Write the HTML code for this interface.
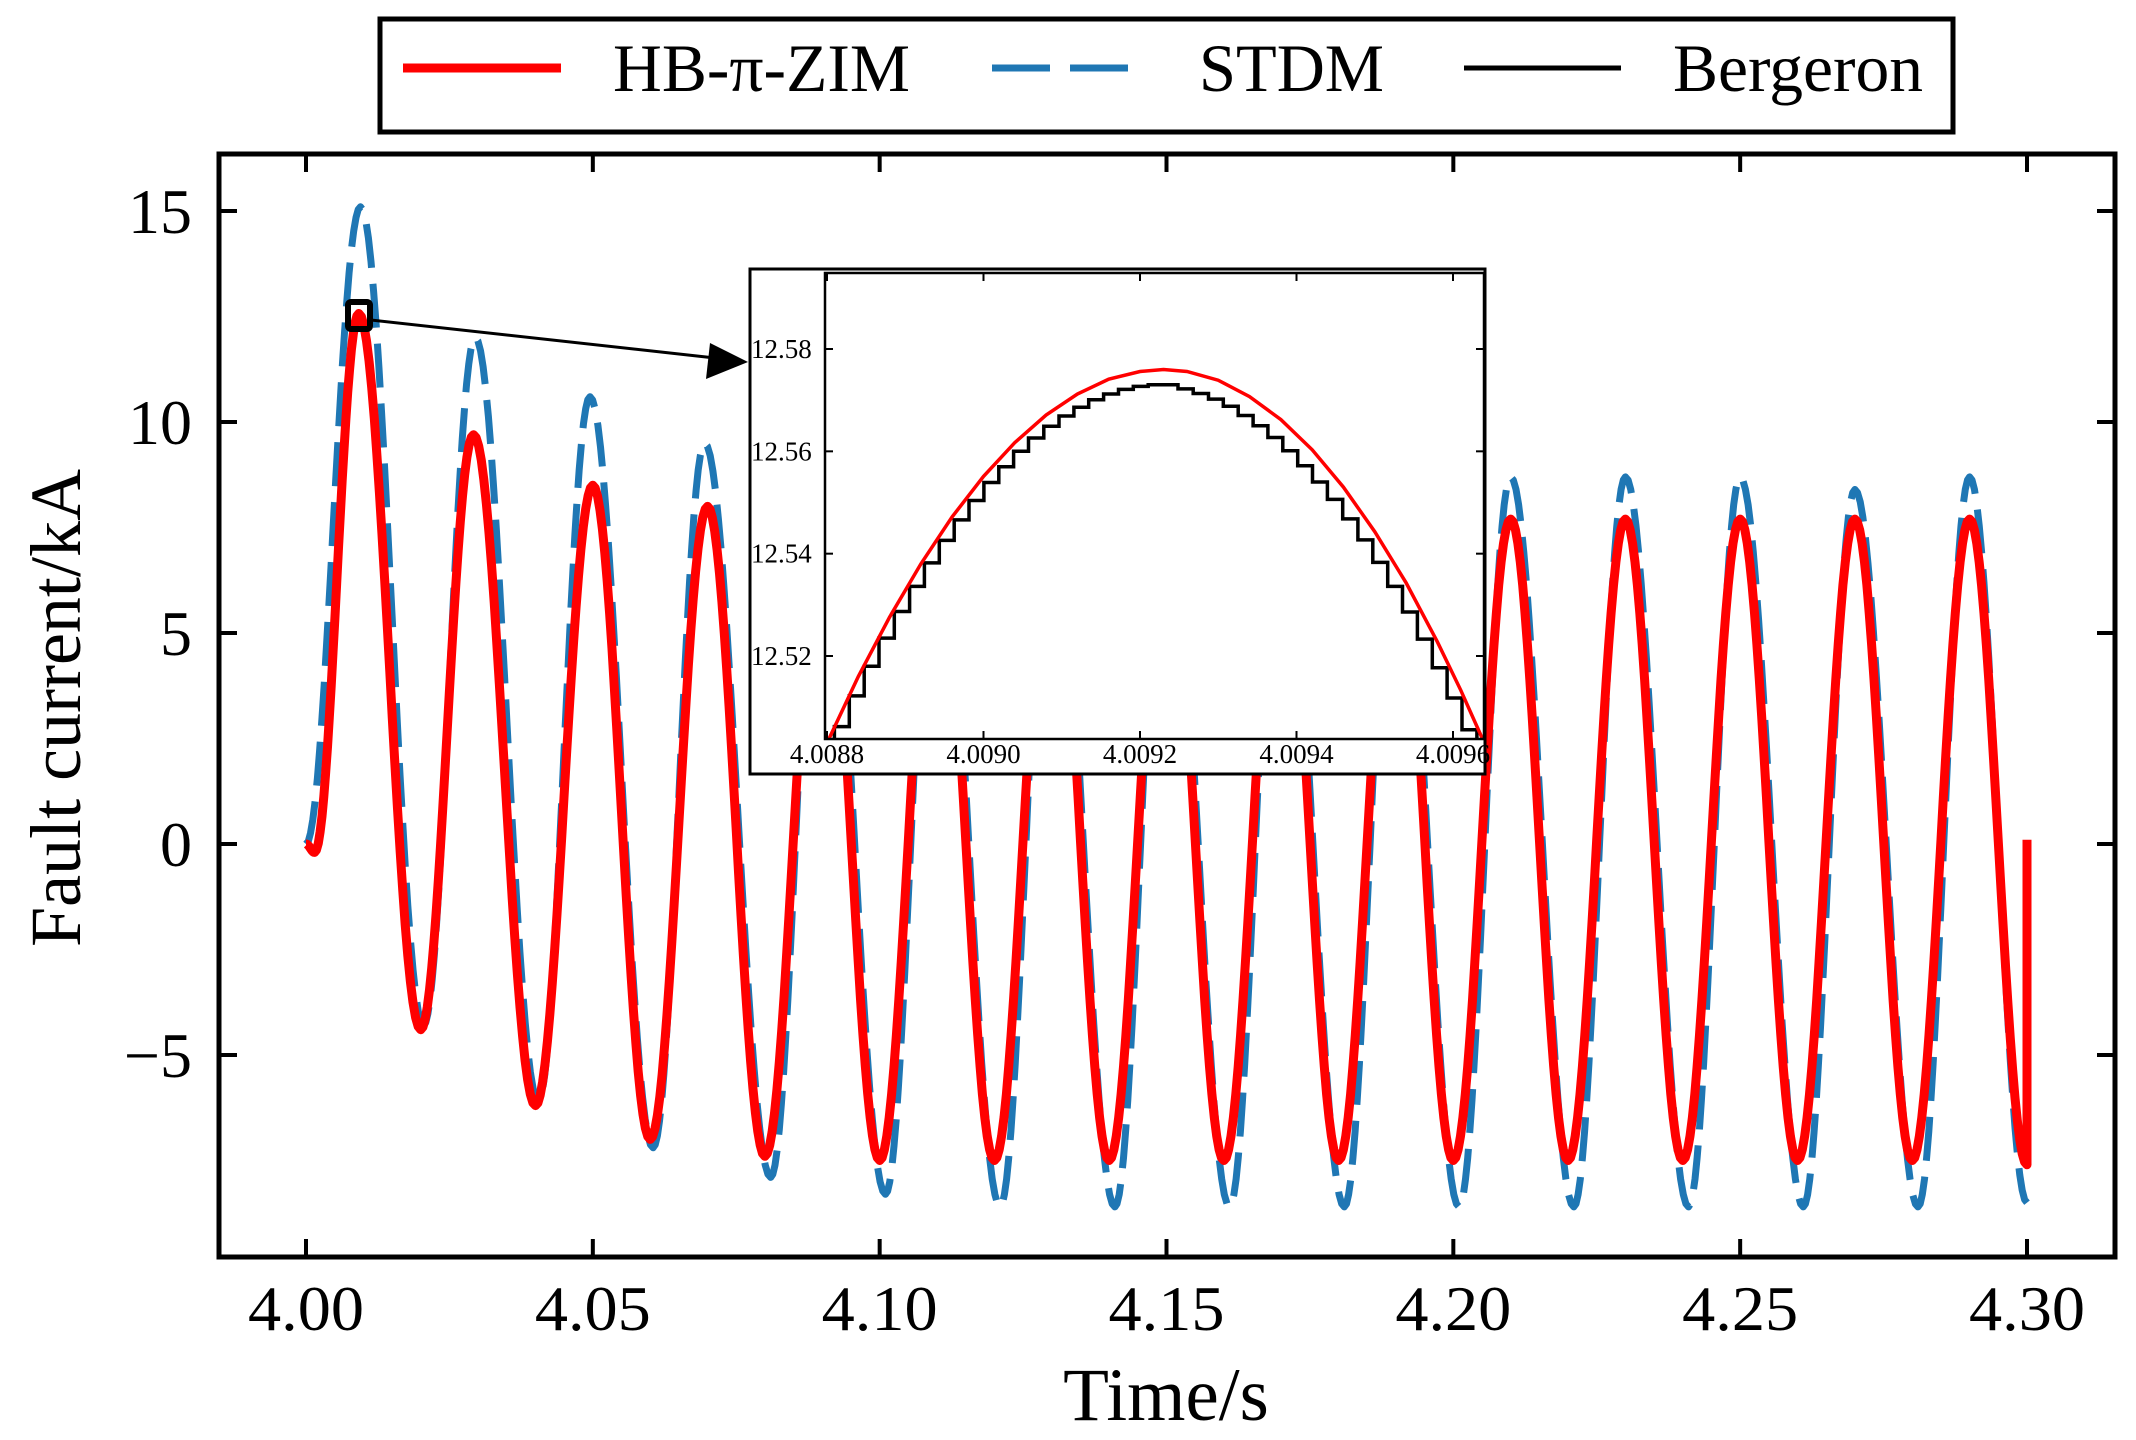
<!DOCTYPE html>
<html><head><meta charset="utf-8"><style>
html,body{margin:0;padding:0;background:#fff;}
svg{display:block;font-family:"Liberation Serif",serif;}
</style></head><body>
<svg id="chart" width="2136" height="1440" viewBox="0 0 2136 1440" xmlns="http://www.w3.org/2000/svg">
<defs>
<clipPath id="mainClip"><rect x="219" y="154" width="1896" height="1103"/></clipPath>
<clipPath id="insetClip"><rect x="825" y="273" width="659" height="466"/></clipPath>
</defs>
<g id="legend">
<rect x="380" y="19" width="1573" height="113" fill="#fff" stroke="#000" stroke-width="5"/>
<line x1="403" y1="68" x2="561" y2="68" stroke="#ff0000" stroke-width="9"/>
<text x="613" y="91" font-size="68" textLength="297" lengthAdjust="spacingAndGlyphs">HB-π-ZIM</text>
<line x1="992" y1="68" x2="1128" y2="68" stroke="#1f77b4" stroke-width="7" stroke-dasharray="58,20"/>
<text x="1199" y="91" font-size="68" textLength="185" lengthAdjust="spacingAndGlyphs">STDM</text>
<line x1="1464" y1="68" x2="1621" y2="68" stroke="#000" stroke-width="5"/>
<text x="1673" y="91" font-size="68" textLength="250" lengthAdjust="spacingAndGlyphs">Bergeron</text>
</g>
<g id="main"></g>
<g id="inset"></g>
</svg>
<script>
// ---- main chart data (extrema of each waveform) ----
const redTimes = [4.000,4.0015,4.0092,4.0200,4.0292,4.0400,4.0500,4.0600,4.0700,4.0800,4.0900,4.1000,4.1100,4.1200,4.1300,4.1400,4.1500,4.1600,4.1700,4.1800,4.1900,4.2000,4.2100,4.2200,4.2300,4.2400,4.2500,4.2600,4.2700,4.2800,4.2900,4.3000];
const redValues = [0,-0.2,12.57,-4.4,9.7,-6.2,8.5,-7.0,8.0,-7.4,7.8,-7.5,7.7,-7.5,7.7,-7.5,7.7,-7.5,7.7,-7.5,7.7,-7.5,7.7,-7.5,7.7,-7.5,7.7,-7.5,7.7,-7.5,7.7,-7.6];
const redEnd = [4.3000, 0.1];
const blueTimes = [4.000,4.0095,4.0205,4.0295,4.0405,4.0495,4.0605,4.0695,4.0810,4.0900,4.1010,4.1100,4.1210,4.1300,4.1410,4.1500,4.1610,4.1700,4.1810,4.1900,4.2010,4.2100,4.2210,4.2300,4.2410,4.2500,4.2610,4.2700,4.2810,4.2900,4.3000];
const blueValues = [0,15.1,-4.3,12.0,-6.1,10.6,-7.2,9.5,-7.9,9.0,-8.3,8.8,-8.6,8.7,-8.6,8.7,-8.6,8.7,-8.6,8.7,-8.6,8.7,-8.6,8.7,-8.6,8.7,-8.6,8.4,-8.6,8.7,-8.5];
const xTicks = [4.00,4.05,4.10,4.15,4.20,4.25,4.30];
const xTickLabels = ["4.00","4.05","4.10","4.15","4.20","4.25","4.30"];
const yTicks = [-5,0,5,10,15];
const yTickLabels = ["\u22125","0","5","10","15"];
// ---- inset data ----
const insetRedTimes = [4.00880,4.00884,4.00888,4.00892,4.00896,4.00900,4.00904,4.00908,4.00912,4.00916,4.00920,4.00923,4.00926,4.00930,4.00934,4.00938,4.00942,4.00946,4.00950,4.00954,4.00958,4.00961,4.00964];
const insetRedValues = [12.503,12.516,12.5276,12.538,12.5472,12.5551,12.5617,12.5671,12.5712,12.5741,12.5756,12.576,12.5756,12.5739,12.5707,12.5662,12.5603,12.553,12.5443,12.5343,12.5228,12.5133,12.503];
const insetBlackTimes = [4.008800,4.008819,4.008838,4.008857,4.008876,4.008896,4.008915,4.008934,4.008953,4.008972,4.008991,4.009010,4.009029,4.009048,4.009067,4.009087,4.009106,4.009125,4.009144,4.009163,4.009182,4.009201,4.009220,4.009239,4.009258,4.009278,4.009297,4.009316,4.009335,4.009354,4.009373,4.009392,4.009411,4.009430,4.009449,4.009469,4.009488,4.009507,4.009526,4.009545,4.009564,4.009583,4.009602,4.009621,4.009640];
const insetBlackValues = [12.4998,12.5062,12.5122,12.5180,12.5235,12.5287,12.5336,12.5382,12.5426,12.5466,12.5504,12.5539,12.5570,12.5600,12.5626,12.5649,12.5669,12.5686,12.5701,12.5712,12.5721,12.5727,12.5730,12.5730,12.5722,12.5713,12.5702,12.5688,12.5670,12.5650,12.5627,12.5601,12.5572,12.5540,12.5506,12.5468,12.5427,12.5383,12.5336,12.5286,12.5233,12.5177,12.5118,12.5056,12.4990];
const insetXTicks = [4.0088,4.0090,4.0092,4.0094,4.0096];
const insetXTickLabels = ["4.0088","4.0090","4.0092","4.0094","4.0096"];
const insetYTicks = [12.52,12.54,12.56,12.58];
const insetYTickLabels = ["12.52","12.54","12.56","12.58"];

const NS = "http://www.w3.org/2000/svg";
function mk(tag, attrs, parent){const e=document.createElementNS(NS,tag);for(const k in attrs)e.setAttribute(k,attrs[k]);parent.appendChild(e);return e;}

// main scales
const X0=219,X1=2115,Y0=154,Y1=1257;
const xs = t => 306 + (t-4.00)/0.30*(2027-306);
const ys = v => 844 - v*(211/5);
const main = document.getElementById('main');

function waveD(times, vals){
  let d = `M${xs(times[0]).toFixed(1)},${ys(vals[0]).toFixed(1)}`;
  for(let i=0;i<times.length-1;i++){
    const t0=times[i],t1=times[i+1],v0=vals[i],v1=vals[i+1];
    for(let s=1;s<=24;s++){
      const f=s/24, w=(1-Math.cos(Math.PI*f))/2;
      d += ` L${xs(t0+(t1-t0)*f).toFixed(1)},${ys(v0+(v1-v0)*w).toFixed(1)}`;
    }
  }
  return d;
}
const curves = mk('g',{'clip-path':'url(#mainClip)'},main);


const blue = mk('path',{d:waveD(blueTimes,blueValues),fill:'none',stroke:'#1f77b4','stroke-width':7,'stroke-dasharray':'44,16','stroke-linejoin':'round'},curves);


const red = mk('path',{d:waveD(redTimes,redValues)+` L${xs(redEnd[0]).toFixed(1)},${ys(redEnd[1]).toFixed(1)}`,fill:'none',stroke:'#ff0000','stroke-width':9,'stroke-linejoin':'round'},curves);



// main frame and ticks
const frame = mk('rect',{x:X0,y:Y0,width:X1-X0,height:Y1-Y0,fill:'none',stroke:'#000','stroke-width':5},main);


xTicks.forEach((t,i)=>{
  const x=xs(t);
  const a=mk('line',{x1:x,y1:Y1,x2:x,y2:Y1-18,stroke:'#000','stroke-width':4},main);
  
  
  const b=mk('line',{x1:x,y1:Y0,x2:x,y2:Y0+18,stroke:'#000','stroke-width':4},main);
  
  
  const l=mk('text',{x:x-58,y:1330,'font-size':64,textLength:116,lengthAdjust:'spacingAndGlyphs'},main);
  l.textContent=xTickLabels[i];
  
  
});
yTicks.forEach((v,i)=>{
  const y=ys(v);
  const a=mk('line',{x1:X0,y1:y,x2:X0+18,y2:y,stroke:'#000','stroke-width':4},main);
  
  
  const b=mk('line',{x1:X1,y1:y,x2:X1-18,y2:y,stroke:'#000','stroke-width':4},main);
  
  
  const l=mk('text',{x:192,y:y+22,'font-size':64,'text-anchor':'end'},main);
  l.textContent=yTickLabels[i];
  
  
});
const xt=mk('text',{x:1166,y:1420,'font-size':75,'text-anchor':'middle'},main);
xt.textContent='Time/s';


const yt=mk('text',{x:0,y:0,'font-size':72,'text-anchor':'middle',transform:'translate(80,708) rotate(-90)'},main);
yt.textContent='Fault current/kA';



// zoom marker and arrow
const sq=mk('rect',{x:348,y:302,width:22,height:27,fill:'none',stroke:'#000','stroke-width':6,rx:3},main);


const ar=mk('line',{x1:371,y1:320,x2:715,y2:358,stroke:'#000','stroke-width':3},main);


const ah=mk('path',{d:'M748,362 L710,343 L706,379 z',fill:'#000'},main);



// inset
const inset=document.getElementById('inset');
const IX0=825,IX1=1484,IY0=273,IY1=739;
const ixs = t => 827 + (t-4.0088)/0.0008*(1453-827);
const iys = v => 349 + (12.58-v)/0.06*(656-349);
const ibg=mk('rect',{x:750,y:269,width:735,height:505,fill:'#fff',stroke:'#000','stroke-width':3},inset);


const ic=mk('g',{'clip-path':'url(#insetClip)'},inset);


let bd='';
insetBlackTimes.forEach((t,i)=>{
  const x=ixs(t),y=iys(insetBlackValues[i]);
  if(i===0) bd+=`M${x.toFixed(1)},${y.toFixed(1)}`;
  else {
    const xm=(ixs(insetBlackTimes[i-1])+x)/2;
    bd+=` H${xm.toFixed(1)} V${y.toFixed(1)} H${x.toFixed(1)}`;
  }
});
const bl=mk('path',{d:bd,fill:'none',stroke:'#000','stroke-width':3.5},ic);


const rd='M'+insetRedTimes.map((t,i)=>`${ixs(t).toFixed(1)},${iys(insetRedValues[i]).toFixed(1)}`).join(' L');
const rl=mk('path',{d:rd,fill:'none',stroke:'#ff0000','stroke-width':3.5},ic);


const ifr=mk('rect',{x:IX0,y:IY0,width:IX1-IX0,height:IY1-IY0,fill:'none',stroke:'#000','stroke-width':2.5},inset);


insetXTicks.forEach((t,i)=>{
  const x=ixs(t);
  const a=mk('line',{x1:x,y1:IY1,x2:x,y2:IY1-8,stroke:'#000','stroke-width':2},inset);
  
  
  const b=mk('line',{x1:x,y1:IY0,x2:x,y2:IY0+8,stroke:'#000','stroke-width':2},inset);
  
  
  const l=mk('text',{x:x,y:763,'font-size':27,'text-anchor':'middle'},inset);
  l.textContent=insetXTickLabels[i];
  
  
});
insetYTicks.forEach((v,i)=>{
  const y=iys(v);
  const a=mk('line',{x1:IX0,y1:y,x2:IX0+8,y2:y,stroke:'#000','stroke-width':2},inset);
  
  
  const b=mk('line',{x1:IX1,y1:y,x2:IX1-8,y2:y,stroke:'#000','stroke-width':2},inset);
  
  
  const l=mk('text',{x:751,y:y+9,'font-size':27},inset);
  l.textContent=insetYTickLabels[i];
  
  
});
</script>
</body></html>
